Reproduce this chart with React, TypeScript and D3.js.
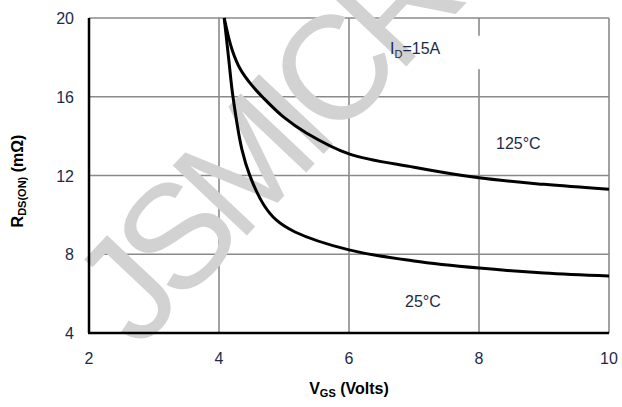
import { useEffect, useRef } from 'react';
import * as d3 from 'd3';

const xTicks = [2, 4, 6, 8, 10];
const yTicks = [4, 8, 12, 16, 20];

// R_DS(on) vs V_GS, I_D = 15A
const curve125 = [
  [4.08, 20], [4.2, 18.4], [4.32, 17.45], [4.5, 16.6], [4.68, 15.95], [5.0, 14.95],
  [5.35, 14.15], [6, 13.1], [7, 12.42], [8, 11.88], [9, 11.55], [10, 11.3],
];
const curve25 = [
  [4.08, 20], [4.15, 17.9], [4.215, 16], [4.354, 13.3], [4.477, 11.97], [4.69, 10.5],
  [4.88, 9.74], [5.17, 9.13], [6, 8.22], [7, 7.66], [8, 7.3], [9, 7.05], [10, 6.9],
];

function App() {
  const svgRef = useRef<SVGSVGElement>(null);

  useEffect(() => {
    const W = 622;
    const H = 407;
    const margin = { top: 18, right: 13, bottom: 74, left: 89 };

    d3.select(svgRef.current).selectAll('*').remove();
    const svg = d3.select(svgRef.current).attr('width', W).attr('height', H);

    const x = d3.scaleLinear().domain([2, 10]).range([margin.left, W - margin.right]);
    const y = d3.scaleLinear().domain([4, 20]).range([H - margin.bottom, margin.top]);

    const font = 'Arial, "Liberation Sans", sans-serif';
    const textColor = '#1c2a4a';

    // grid
    svg.append('g')
      .selectAll('line')
      .data(xTicks.slice(1))
      .enter()
      .append('line')
      .attr('x1', (d) => x(d)).attr('x2', (d) => x(d))
      .attr('y1', y(4)).attr('y2', y(20))
      .attr('stroke', '#8a8a8a').attr('stroke-width', 1.6);
    svg.append('g')
      .selectAll('line')
      .data(yTicks.slice(1))
      .enter()
      .append('line')
      .attr('x1', x(2)).attr('x2', x(10))
      .attr('y1', (d) => y(d)).attr('y2', (d) => y(d))
      .attr('stroke', '#8a8a8a').attr('stroke-width', 1.6);

    // gap in the grid line next to the I_D label
    svg.append('rect')
      .attr('x', x(8) - 3).attr('width', 6)
      .attr('y', y(19.1)).attr('height', y(17.4) - y(19.1))
      .attr('fill', '#fff');

    // watermark
    svg.append('text')
      .attr('transform', 'translate(138,351) rotate(-46.7)')
      .attr('font-family', font)
      .attr('font-size', 148)
      .attr('letter-spacing', -13)
      .attr('fill', '#d2d2d2')
      .text('JSMICRO');

    // axes
    svg.append('line')
      .attr('x1', x(2)).attr('x2', x(2)).attr('y1', y(20)).attr('y2', y(4))
      .attr('stroke', '#000').attr('stroke-width', 2.5);
    svg.append('line')
      .attr('x1', x(2) - 1).attr('x2', x(10)).attr('y1', y(4)).attr('y2', y(4))
      .attr('stroke', '#000').attr('stroke-width', 2.5);

    // tick labels
    svg.append('g')
      .selectAll('text')
      .data(xTicks)
      .enter()
      .append('text')
      .attr('x', (d) => x(d))
      .attr('y', 364)
      .attr('text-anchor', 'middle')
      .attr('font-family', font).attr('font-size', 16).attr('fill', textColor)
      .text((d) => d);
    svg.append('g')
      .selectAll('text')
      .data(yTicks)
      .enter()
      .append('text')
      .attr('x', 74)
      .attr('y', (d) => y(d) + 6)
      .attr('text-anchor', 'end')
      .attr('font-family', font).attr('font-size', 16).attr('fill', textColor)
      .text((d) => d);

    // curves
    const line = d3.line<number[]>()
      .x((d) => x(d[0]))
      .y((d) => y(d[1]))
      .curve(d3.curveCatmullRom.alpha(0.5));
    [curve125, curve25].forEach((c) => {
      svg.append('path')
        .attr('d', line(c))
        .attr('fill', 'none')
        .attr('stroke', '#000')
        .attr('stroke-width', 3);
    });

    // annotations
    const id = svg.append('text')
      .attr('x', 390).attr('y', 54)
      .attr('font-family', font).attr('font-size', 16).attr('fill', textColor);
    id.append('tspan').text('I');
    id.append('tspan').attr('font-size', 11).attr('dy', 4).text('D');
    id.append('tspan').attr('dy', -4).text('=15A');

    svg.append('text')
      .attr('x', 496).attr('y', 149)
      .attr('font-family', font).attr('font-size', 16).attr('fill', textColor)
      .text('125°C');
    svg.append('text')
      .attr('x', 405).attr('y', 307)
      .attr('font-family', font).attr('font-size', 16).attr('fill', textColor)
      .text('25°C');

    // axis titles
    const xt = svg.append('text')
      .attr('x', x(6)).attr('y', 394)
      .attr('text-anchor', 'middle')
      .attr('font-family', font).attr('font-size', 16).attr('font-weight', 'bold')
      .attr('fill', '#000');
    xt.append('tspan').text('V');
    xt.append('tspan').attr('font-size', 11).attr('dy', 3).text('GS');
    xt.append('tspan').attr('dy', -3).text(' (Volts)');

    const yt = svg.append('text')
      .attr('transform', 'translate(23,181) rotate(-90)')
      .attr('text-anchor', 'middle')
      .attr('font-family', font).attr('font-size', 16).attr('font-weight', 'bold')
      .attr('fill', '#000');
    yt.append('tspan').text('R');
    yt.append('tspan').attr('font-size', 11).attr('dy', 3).text('DS(ON)');
    yt.append('tspan').attr('dy', -3).text(' (mΩ)');
  }, []);

  return (
    <svg
      ref={svgRef}
      style={{ position: 'absolute', left: 0, top: 0, background: '#fff' }}
    ></svg>
  );
}

export default App;
